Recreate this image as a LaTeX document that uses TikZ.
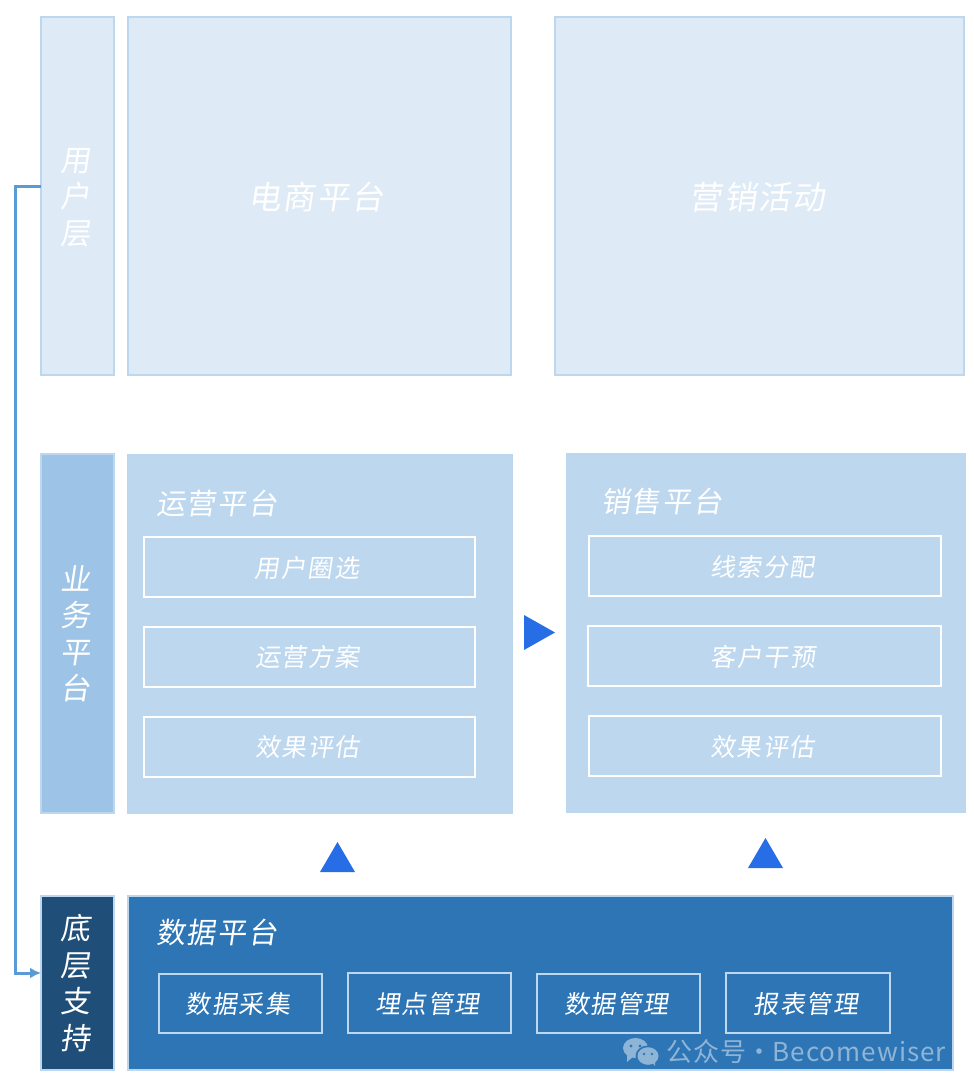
\documentclass[tikz,border=0pt]{standalone}
\usepackage{fontspec}
\newfontfamily\cjk[FakeSlant=0.15,LetterSpace=6]{Noto Sans CJK SC}
\newfontfamily\wmfont[LetterSpace=4]{Noto Sans CJK SC}
\definecolor{paleblue}{HTML}{DEEAF6}
\definecolor{edgeblue}{HTML}{BDD7EE}
\definecolor{midblue}{HTML}{9DC3E6}
\definecolor{strongblue}{HTML}{2E75B6}
\definecolor{navyblue}{HTML}{1F4E79}
\definecolor{linkblue}{HTML}{5B9BD5}
\definecolor{tripblue}{HTML}{266DE6}
\definecolor{markblue}{HTML}{8FB5D6}
\usetikzlibrary{arrows.meta}
\tikzset{
  panel/.style={rectangle,draw=edgeblue,line width=2pt,inner sep=0pt,outer sep=0pt},
  flat/.style={rectangle,fill=edgeblue,inner sep=0pt,outer sep=0pt},
  whitebox/.style={rectangle,draw=white,line width=2pt,inner sep=0pt,outer sep=0pt},
  databox/.style={rectangle,draw=edgeblue,line width=2pt,inner sep=0pt,outer sep=0pt},
  txt/.style={text=white,inner sep=0pt,outer sep=0pt,font=\cjk},
  big/.style={txt,font=\cjk\fontsize{32.5}{32.5}\selectfont},
  head/.style={txt,font=\cjk\fontsize{29}{29}\selectfont,anchor=west},
  item/.style={txt,font=\cjk\fontsize{25}{25}\selectfont},
  side/.style={txt,font=\cjk\fontsize{30}{36.5}\selectfont,align=center},
  link/.style={draw=linkblue,line width=3pt,-{Latex[length=11pt,width=11pt]}},
  trip/.style={fill=tripblue,draw=none}
}
% name, style, x1, y1, x2, y2 (path centre lines, picture pixels)
\newcommand{\pbox}[6]{\node[#2,minimum width={(#5-#3)*1pt},minimum height={(#6-#4)*1pt}] (#1) at ({(#3+#5)/2},{(#4+#6)/2}) {};}
\begin{document}
\begin{tikzpicture}[x=1pt,y=-1pt]
\useasboundingbox (0,0) rectangle (974,1090);
% top row
\pbox{userside}{panel,fill=paleblue}{41}{17}{114}{375}
\pbox{shop}{panel,fill=paleblue}{128}{17}{511}{375}
\pbox{promo}{panel,fill=paleblue}{555}{17}{964}{375}
% middle row
\pbox{bizside}{panel,fill=midblue}{41}{454}{114}{813}
\pbox{ops}{flat}{127}{454}{513}{814}
\pbox{sales}{flat}{566}{453}{966}{813}
\pbox{opsa}{whitebox}{144}{537}{475}{597}
\pbox{opsb}{whitebox}{144}{627}{475}{687}
\pbox{opsc}{whitebox}{144}{717}{475}{777}
\pbox{salesa}{whitebox}{589}{536}{941}{596}
\pbox{salesb}{whitebox}{588}{626}{941}{686}
\pbox{salesc}{whitebox}{589}{716}{941}{776}
% bottom row
\pbox{baseside}{panel,fill=navyblue}{41}{896}{114}{1070}
\pbox{data}{panel,fill=strongblue}{128}{896}{953}{1070}
\pbox{dataa}{databox}{159}{974}{322}{1033}
\pbox{datab}{databox}{348}{973}{511}{1033}
\pbox{datac}{databox}{537}{974}{700}{1033}
\pbox{datad}{databox}{726}{973}{890}{1033}
% labels
\node[side] (tuser) at (75,197.5) {用\\户\\层};
\node[side] (tbiz) at (75.5,634) {业\\务\\平\\台};
\node[side] (tbase) at (75.5,983) {底\\层\\支\\持};
\node[big] (tshop) at (316.5,197) {电商平台};
\node[big] (tpromo) at (757.5,197) {营销活动};
\node[head] (tops) at (156,503) {运营平台};
\node[head] (tsales) at (601,501) {销售平台};
\node[head] (tdata) at (156,932) {数据平台};
\node[item] (ta1) at (307,568) {用户圈选};
\node[item] (ta2) at (307.5,657) {运营方案};
\node[item] (ta3) at (307.5,747) {效果评估};
\node[item] (tb1) at (762.5,567) {线索分配};
\node[item] (tb2) at (763,657) {客户干预};
\node[item] (tb3) at (762.5,747) {效果评估};
\node[item] (tc1) at (238,1004) {数据采集};
\node[item] (tc2) at (427.5,1004) {埋点管理};
\node[item] (tc3) at (616.5,1004) {数据管理};
\node[item] (tc4) at (806,1004) {报表管理};
% connector
\coordinate (linkstart) at (41,186);
\coordinate (linkend) at (41,973);
\coordinate (linkbus) at (15,186);
\draw[link] (linkstart) -- (linkbus) -- (linkbus |- linkend) -- (linkend);
% triangles
\fill[trip] (524,615) -- (555,632.5) -- (524,650) -- cycle;
\fill[trip] (320,872) -- (337.5,842) -- (355,872) -- cycle;
\fill[trip] (748,868) -- (765.5,838) -- (783,868) -- cycle;
% watermark
\fill[markblue] (635.5,1048) ellipse [x radius=12.5,y radius=10];
\fill[markblue] (627,1055) -- (627,1062) -- (634,1056) -- cycle;
\fill[strongblue] (648,1056) ellipse [x radius=12.5,y radius=10.5];
\fill[markblue] (648,1056) ellipse [x radius=10.5,y radius=8.8];
\fill[markblue] (652,1062) -- (655,1066) -- (655,1060) -- cycle;
\fill[strongblue] (631,1046) circle (1.6) (640,1046) circle (1.6) (644,1054) circle (1.3) (652,1054) circle (1.3);
\node[anchor=west,text=markblue,inner sep=0pt,font=\wmfont\fontsize{26}{26}\selectfont] (wm) at (666.5,1052) {公众号\hspace{-7pt} ·\hspace{-7pt} Becomewiser};
\end{tikzpicture}
\end{document}
